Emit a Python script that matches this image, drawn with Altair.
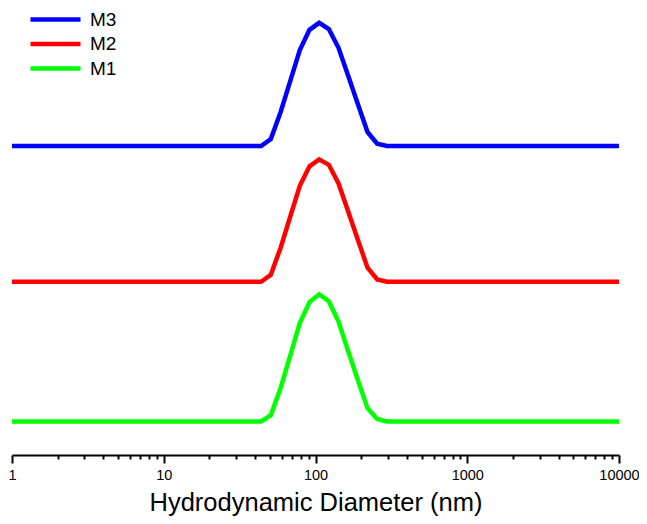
import altair as alt
import pandas as pd

# Hydrodynamic diameter bins (nm)
sizes = [1.0, 43.82, 50.75, 58.77, 68.06, 78.82, 91.28, 105.7, 122.4,
         141.8, 164.2, 190.1, 220.2, 255.0, 295.3, 10000.0]
# Intensity (%) for each sample
m1 = [0, 0, 0.8, 4.2, 8.4, 12.6, 15.3, 16.3, 15.4, 12.8, 9.0, 5.3, 1.7, 0.3, 0, 0]
m2 = [0, 0, 0.9, 4.3, 8.3, 12.3, 14.8, 15.7, 15.0, 12.6, 9.0, 5.4, 1.8, 0.3, 0, 0]
m3 = [0, 0, 0.9, 4.3, 8.3, 12.3, 14.9, 15.8, 15.0, 12.6, 9.0, 5.4, 1.8, 0.3, 0, 0]
series = ["M1", "M2", "M3"]
offsets = [0.0, 17.9, 35.3]   # vertical stacking offsets
legend_order = ["M3", "M2", "M1"]
colors = ["#0000FF", "#FF0000", "#00FF00"]
tick_values = [d * 10 ** k for k in range(4) for d in range(1, 10)] + [10000]

rows = []
for name, vals, off in zip(series, [m1, m2, m3], offsets):
    for s, v in zip(sizes, vals):
        rows.append({"size": s, "intensity": v, "sample": name, "offset": off})
df = pd.DataFrame(rows)

major = "abs(log(datum.value)/LN10 - round(log(datum.value)/LN10)) < 0.001"
font = "Liberation Sans"

chart = alt.Chart(df).transform_calculate(
    y="datum.intensity + datum.offset"
).mark_line(strokeWidth=4.5).encode(
    x=alt.X("size:Q",
            scale=alt.Scale(type="log", domain=[1, 10000], nice=False),
            axis=alt.Axis(values=tick_values,
                          title="Hydrodynamic Diameter (nm)",
                          labelExpr=f"({major}) ? format(datum.value, 'd') : ''",
                          tickSize={"condition": {"test": major, "value": 8}, "value": 4},
                          labelOverlap=False, labelFlush=False,
                          grid=False,
                          domainColor="black", domainWidth=2,
                          tickColor="black", tickWidth=2,
                          labelColor="black", labelFontSize=14.5, labelFont=font,
                          labelPadding=5,
                          titleColor="black", titleFontSize=25.5, titleFont=font,
                          titleFontWeight="normal", titlePadding=9)),
    y=alt.Y("y:Q", scale=alt.Scale(domain=[-4.31, 53.0], nice=False, zero=False),
            axis=None),
    color=alt.Color("sample:N",
                    scale=alt.Scale(domain=legend_order, range=colors),
                    legend=alt.Legend(title=None, orient="none",
                                      legendX=34, legendY=2,
                                      symbolType="M-5,0H5",
                                      symbolSize=100, symbolStrokeWidth=4.5,
                                      labelFontSize=19, labelFont=font,
                                      labelColor="black",
                                      labelOffset=25, rowPadding=4.5,
                                      padding=0)),
).properties(
    width=607, height=447,
    autosize=alt.AutoSizeParams(type="none"),
    padding={"left": 4, "top": 0, "right": 20, "bottom": 61},
    background="white",
).configure_view(stroke=None)

chart.save("out.html", embed_options={"renderer": "svg", "actions": False})
